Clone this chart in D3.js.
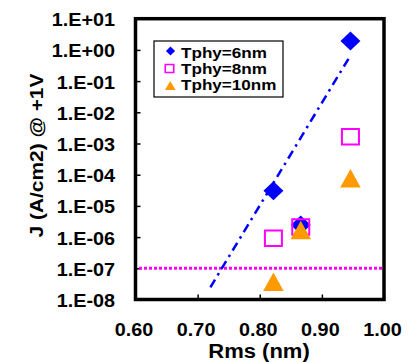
<!DOCTYPE html>
<html>
<head>
<meta charset="utf-8">
<script src="https://cdn.jsdelivr.net/npm/d3@7"></script>
<style>
  body { margin: 0; background: #fff; }
  svg { display: block; }
  text { font-family: "Liberation Sans", Arial, sans-serif; font-weight: bold; fill: #000; }
</style>
</head>
<body>
<figure id="chart" style="margin:0"></figure>
<script>
// data
const rms = [0.822, 0.866, 0.946];
const tphy6 = [3.07e-5, 2.44e-6, 1.93];
const tphy8 = [9.2e-7, 2.1e-6, 1.65e-3];
const tphy10 = [3.7e-8, 1.69e-6, 7.7e-5];
const fitX = [0.7205, 0.9465];
const fitY = [2.46e-8, 0.687];
const limitJ = 1e-7;
const seriesNames = ["Tphy=6nm", "Tphy=8nm", "Tphy=10nm"];
const xTicks = [0.6, 0.7, 0.8, 0.9, 1.0];
const xTickLabels = ["0.60", "0.70", "0.80", "0.90", "1.00"];
const yTicks = [1e-8, 1e-7, 1e-6, 1e-5, 1e-4, 1e-3, 1e-2, 1e-1, 1e0, 1e1];
const yTickLabels = ["1.E-08", "1.E-07", "1.E-06", "1.E-05", "1.E-04", "1.E-03", "1.E-02", "1.E-01", "1.E+00", "1.E+01"];

const W = 419, H = 362;
const plot = { left: 135.5, right: 384, top: 18.7, bottom: 299.5 };
const stretch = 1.1;

const svg = d3.select("#chart").append("svg")
  .attr("width", W)
  .attr("height", H);

const x = d3.scaleLinear().domain([0.6, 1.0]).range([plot.left, plot.right]);
const y = d3.scaleLog().domain([1e-8, 1e1]).range([plot.bottom, plot.top]);

// marker shapes
const diamond = (w, h) => `M0,${-h}L${w},0L0,${h}L${-w},0Z`;
const square = (w, h) => `M${-w / 2},${-h / 2}h${w}v${h}h${-w}Z`;
const triangle = (w, h) => `M0,${-h / 2}L${w / 2},${h / 2}L${-w / 2},${h / 2}Z`;

// y axis
const yAxis = svg.append("g")
  .attr("transform", "translate(" + plot.left + ",0)")
  .call(d3.axisLeft(y).tickValues(yTicks).tickSize(-5).tickPadding(20.5)
    .tickFormat((d, i) => yTickLabels[i]));
yAxis.select(".domain").remove();
yAxis.selectAll("line").attr("stroke", "#000").attr("stroke-width", 1.5);
yAxis.selectAll("text").attr("dy", null).attr("y", 7).style("font-size", "18px");

// x axis
const xAxis = svg.append("g")
  .attr("transform", "translate(0," + plot.bottom + ")")
  .call(d3.axisBottom(x).tickValues(xTicks).tickSize(-5)
    .tickFormat((d, i) => xTickLabels[i]));
xAxis.select(".domain").remove();
xAxis.selectAll("line").attr("stroke", "#000").attr("stroke-width", 1.5);
xAxis.selectAll("text").attr("dy", null).attr("y", 36.5).attr("x", -2).style("font-size", "18px");

// limit line
svg.append("line")
  .attr("x1", x(0.6) + 3.5).attr("x2", x(1.0) - 2)
  .attr("y1", y(limitJ)).attr("y2", y(limitJ))
  .attr("stroke", "#FF00FF").attr("stroke-width", 3)
  .attr("stroke-dasharray", "3,2");

// fit line
svg.append("path")
  .datum(fitX.map((d, i) => [d, fitY[i]]))
  .attr("d", d3.line().x(d => x(d[0])).y(d => y(d[1])))
  .attr("fill", "none")
  .attr("stroke", "#0000FF").attr("stroke-width", 2.5)
  .attr("stroke-dasharray", "9,5,2.5,5");

// points
svg.selectAll(".p6").data(rms).enter().append("path")
  .attr("transform", (d, i) => "translate(" + x(d) + "," + y(tphy6[i]) + ")")
  .attr("d", diamond(10, 9.5))
  .attr("fill", "#0000FF");

svg.selectAll(".p8").data(rms).enter().append("path")
  .attr("transform", (d, i) => "translate(" + x(d) + "," + y(tphy8[i]) + ")")
  .attr("d", square(17, 15.5))
  .attr("fill", "none")
  .attr("stroke", "#FF00FF").attr("stroke-width", 2);

svg.selectAll(".p10").data(rms).enter().append("path")
  .attr("transform", (d, i) => "translate(" + x(d) + "," + y(tphy10[i]) + ")")
  .attr("d", triangle(20.5, 18.5))
  .attr("fill", "#FF9900");

// frame
svg.append("rect")
  .attr("x", plot.left).attr("y", plot.top)
  .attr("width", plot.right - plot.left).attr("height", plot.bottom - plot.top)
  .attr("fill", "none").attr("stroke", "#000").attr("stroke-width", 3.5);

// legend
const legend = svg.append("g");
legend.append("rect")
  .attr("x", 154).attr("y", 41).attr("width", 129).attr("height", 56)
  .attr("fill", "#fff").attr("stroke", "#000").attr("stroke-width", 1.2);
const legendRows = [51, 68.5, 85.5];
legend.append("path").attr("transform", "translate(170.5," + legendRows[0] + ")")
  .attr("d", diamond(4.6, 4.6)).attr("fill", "#0000FF");
legend.append("path").attr("transform", "translate(169.5," + legendRows[1] + ")")
  .attr("d", square(8.5, 8)).attr("fill", "none").attr("stroke", "#FF00FF").attr("stroke-width", 1.6);
legend.append("path").attr("transform", "translate(170.3," + legendRows[2] + ")")
  .attr("d", triangle(10.7, 8.8)).attr("fill", "#FF9900");
legend.selectAll("text").data(seriesNames).enter().append("text")
  .attr("x", 181)
  .attr("y", (d, i) => [57.5, 74, 89.5][i])
  .style("font-size", "15px")
  .text(d => d);

// axis titles
svg.append("text")
  .attr("x", 259).attr("y", 358)
  .attr("text-anchor", "middle")
  .style("font-size", "20px")
  .text("Rms (nm)");

svg.append("text")
  .attr("transform", "translate(43,155.5) rotate(-90)")
  .attr("text-anchor", "middle")
  .style("font-size", "19px")
  .text("J (A/cm2) @ +1V");

// widen glyphs a bit, like the original rendering
svg.selectAll("text").each(function () {
  const len = this.getComputedTextLength();
  const k = this.parentNode === legend.node() ? 1.14 : stretch;
  d3.select(this).attr("textLength", len * k).attr("lengthAdjust", "spacingAndGlyphs");
});
</script>
</body>
</html>
